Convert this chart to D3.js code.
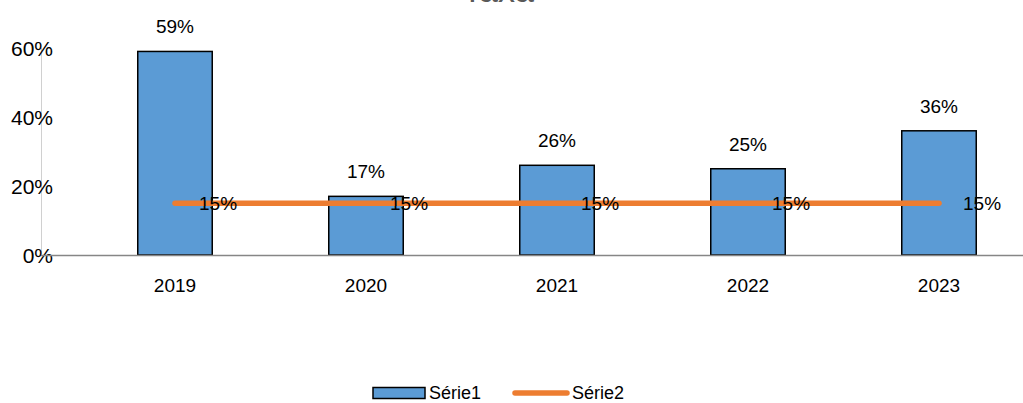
<!doctype html>
<html>
<head>
  <meta charset="UTF-8" />
  <title>Taxa</title>
  <style>
    html, body { margin: 0; padding: 0; background: #fff; }
    svg { font-family: "Liberation Sans", Arial, sans-serif; display: block; }
  </style>
</head>
<body>
  <script src="https://d3js.org/d3.v7.min.js"></script>
  <script>
    // data
    const years = ['2019', '2020', '2021', '2022', '2023'];
    const serie1 = [0.59, 0.17, 0.26, 0.25, 0.36];
    const serie2 = [0.15, 0.15, 0.15, 0.15, 0.15];
    const yTicks = [0, 0.2, 0.4, 0.6];
    const seriesNames = ['Série1', 'Série2'];

    const width = 1023, height = 403;
    const blue = '#5B9BD5', orange = '#ED7D31';

    const svg = d3.select('body').append('svg')
      .attr('width', width)
      .attr('height', height);

    const x = d3.scaleBand()
      .domain(years)
      .range([79.5, 1034.5])
      .paddingInner(0.61)
      .paddingOuter(0.305);

    const y = d3.scaleLinear()
      .domain([0, 0.6])
      .range([255, 48]);

    const fmt = d3.format('.0%');

    // title (mostly cut off at top, as in the source)
    svg.append('text')
      .attr('x', 498)
      .attr('y', 2)
      .attr('text-anchor', 'middle')
      .attr('fill', '#595959')
      .style('font-size', '34px')
      .text('Taxa');

    // y axis line
    svg.append('line')
      .attr('x1', 41.5).attr('x2', 41.5)
      .attr('y1', y(0.6)).attr('y2', y(0))
      .attr('stroke', '#d0d0d0');

    // y tick labels
    svg.selectAll('text.ytick')
      .data(yTicks)
      .join('text')
      .attr('class', 'ytick')
      .attr('x', 53)
      .attr('y', d => y(d))
      .attr('dy', '0.36em')
      .attr('text-anchor', 'end')
      .style('font-size', '21px')
      .text(fmt);

    // bars
    svg.selectAll('rect.bar')
      .data(serie1)
      .join('rect')
      .attr('class', 'bar')
      .attr('x', (d, i) => x(years[i]))
      .attr('y', d => y(d))
      .attr('width', x.bandwidth())
      .attr('height', d => y(0) - y(d))
      .attr('fill', blue)
      .attr('stroke', '#000')
      .attr('stroke-width', 1.5);

    // x axis line
    svg.append('line')
      .attr('x1', 41).attr('x2', width)
      .attr('y1', y(0) + 0.5).attr('y2', y(0) + 0.5)
      .attr('stroke', '#868686')
      .attr('stroke-width', 1.5);

    // x labels
    svg.selectAll('text.xtick')
      .data(years)
      .join('text')
      .attr('class', 'xtick')
      .attr('x', d => x(d) + x.bandwidth() / 2)
      .attr('y', 285)
      .attr('dy', '0.36em')
      .attr('text-anchor', 'middle')
      .style('font-size', '19px')
      .text(d => d);

    // bar labels
    svg.selectAll('text.blabel')
      .data(serie1)
      .join('text')
      .attr('class', 'blabel')
      .attr('x', (d, i) => x(years[i]) + x.bandwidth() / 2)
      .attr('y', d => y(d) - 25)
      .attr('dy', '0.36em')
      .attr('text-anchor', 'middle')
      .style('font-size', '19px')
      .text(fmt);

    // line series
    const line = d3.line()
      .x((d, i) => x(years[i]) + x.bandwidth() / 2)
      .y(d => y(d));

    svg.append('path')
      .datum(serie2)
      .attr('d', line)
      .attr('fill', 'none')
      .attr('stroke', orange)
      .attr('stroke-width', 5.5)
      .attr('stroke-linecap', 'round');

    svg.selectAll('text.llabel')
      .data(serie2)
      .join('text')
      .attr('class', 'llabel')
      .attr('x', (d, i) => x(years[i]) + x.bandwidth() / 2 + 24)
      .attr('y', d => y(d))
      .attr('dy', '0.36em')
      .style('font-size', '19px')
      .text(fmt);

    // legend
    const ly = 393;
    const lg = svg.append('g');
    lg.append('rect')
      .attr('x', 373).attr('y', ly - 5.5)
      .attr('width', 52).attr('height', 11)
      .attr('fill', blue)
      .attr('stroke', '#000')
      .attr('stroke-width', 1.5);
    lg.append('text')
      .attr('x', 429).attr('y', ly)
      .attr('dy', '0.36em')
      .style('font-size', '18px')
      .text(seriesNames[0]);
    lg.append('line')
      .attr('x1', 515).attr('x2', 567)
      .attr('y1', ly).attr('y2', ly)
      .attr('stroke', orange)
      .attr('stroke-width', 5.5)
      .attr('stroke-linecap', 'round');
    lg.append('text')
      .attr('x', 572).attr('y', ly)
      .attr('dy', '0.36em')
      .style('font-size', '18px')
      .text(seriesNames[1]);
  </script>
</body>
</html>
